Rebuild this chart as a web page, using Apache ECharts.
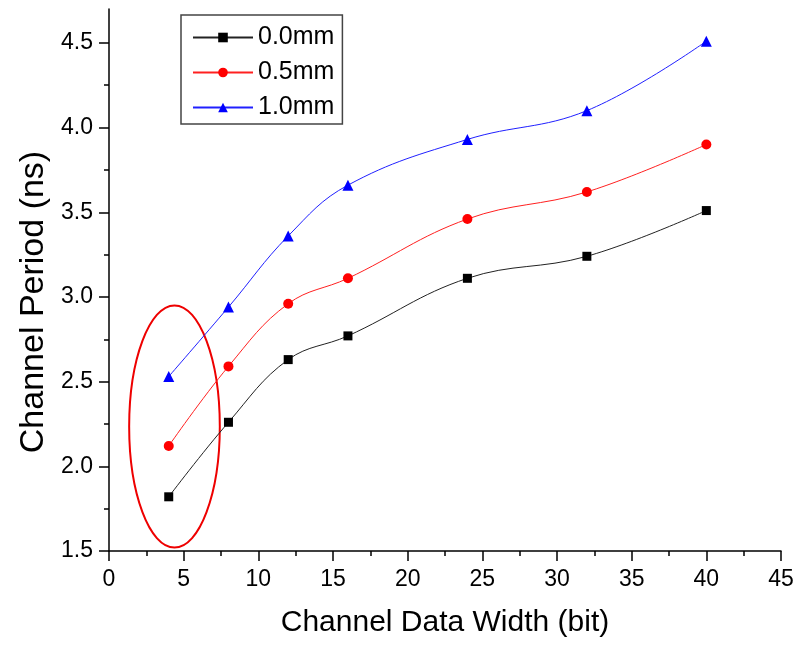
<!DOCTYPE html>
<html>
<head>
<meta charset="utf-8">
<script src="https://cdn.jsdelivr.net/npm/echarts@6/dist/echarts.min.js"></script>
<style>
  html, body { margin: 0; padding: 0; background: #fff; }
  #chart { width: 808px; height: 645px; }
</style>
</head>
<body>
<div id="chart"></div>
<script>
  // data
  var widths = [4, 8, 12, 16, 24, 32, 40];
  var period00 = [1.82, 2.26, 2.63, 2.77, 3.11, 3.24, 3.51];
  var period05 = [2.12, 2.59, 2.96, 3.11, 3.46, 3.62, 3.90];
  var period10 = [2.53, 2.94, 3.36, 3.66, 3.93, 4.10, 4.51];
  var seriesNames = ['0.0mm', '0.5mm', '1.0mm'];
  var yLabels = [1.5, 2.0, 2.5, 3.0, 3.5, 4.0, 4.5];
  var yMinor = [1.75, 2.25, 2.75, 3.25, 3.75, 4.25];
  // circled region: x from, y from, x to, y to
  var circled = [[1.35, 1.52, 7.42, 2.95]];

  var font = 'Liberation Sans, Arial, sans-serif';

  function pairs(vals) {
    var out = [];
    for (var i = 0; i < widths.length; i++) {
      out.push([widths[i], vals[i]]);
    }
    return out;
  }

  var chart = echarts.init(document.getElementById('chart'));

  var option = {
    animation: false,
    backgroundColor: '#fff',
    grid: { left: 109, right: 27, top: 9, bottom: 94 },
    legend: {
      data: seriesNames,
      orient: 'vertical',
      left: 181,
      top: 15,
      padding: [10, 8, 4, 11],
      itemGap: 10,
      itemWidth: 60,
      itemHeight: 12,
      borderColor: '#444',
      borderWidth: 1.5,
      textStyle: { fontFamily: font, fontSize: 25, color: '#000', lineHeight: 25 }
    },
    xAxis: {
      type: 'value',
      min: 0,
      max: 45,
      interval: 5,
      name: 'Channel Data Width (bit)',
      nameLocation: 'middle',
      nameGap: 57,
      nameTextStyle: { fontFamily: font, fontSize: 30, color: '#000' },
      axisLine: { onZero: false, lineStyle: { color: '#000', width: 1.5 } },
      axisTick: { length: 10, lineStyle: { color: '#000', width: 1.5 } },
      minorTick: { show: true, splitNumber: 2, length: 5, lineStyle: { color: '#000', width: 1.5 } },
      axisLabel: { fontFamily: font, fontSize: 23, color: '#000', margin: 17 },
      splitLine: { show: false }
    },
    yAxis: [
      {
        type: 'value',
        min: 1.5,
        max: 4.7,
        interval: 0.5,
        name: 'Channel Period (ns)',
        nameLocation: 'middle',
        nameGap: 58,
        nameTextStyle: { fontFamily: font, fontSize: 34, color: '#000', padding: [0, 44, 0, 0] },
        axisLine: { show: true, lineStyle: { color: '#000', width: 1.5 } },
        axisTick: { customValues: yLabels, length: 10, lineStyle: { color: '#000', width: 1.5 } },
        axisLabel: {
          customValues: yLabels,
          fontFamily: font, fontSize: 23, color: '#000', margin: 16,
          formatter: function (v) { return v.toFixed(1); }
        },
        splitLine: { show: false }
      },
      {
        type: 'value',
        min: 1.5,
        max: 4.7,
        position: 'left',
        axisLine: { show: false },
        axisTick: { customValues: yMinor, length: 5, lineStyle: { color: '#000', width: 1.5 } },
        axisLabel: { show: false },
        splitLine: { show: false }
      }
    ],
    series: [
      {
        name: seriesNames[0],
        type: 'line',
        data: pairs(period00),
        smooth: 0.4,
        symbol: 'rect',
        symbolSize: 9,
        clip: false,
        itemStyle: { color: '#000' },
        lineStyle: { color: '#222', width: 1 }
      },
      {
        name: seriesNames[1],
        type: 'line',
        data: pairs(period05),
        smooth: 0.4,
        symbol: 'circle',
        symbolSize: 10,
        clip: false,
        itemStyle: { color: '#ff0000' },
        lineStyle: { color: '#ff2020', width: 1 }
      },
      {
        name: seriesNames[2],
        type: 'line',
        data: pairs(period10),
        smooth: 0.4,
        symbol: 'triangle',
        symbolSize: 11,
        clip: false,
        itemStyle: { color: '#0000ff' },
        lineStyle: { color: '#2020ff', width: 1 }
      },
      {
        type: 'custom',
        data: circled,
        encode: { x: [0, 2], y: [1, 3] },
        silent: true,
        renderItem: function (params, api) {
          var p0 = api.coord([api.value(0), api.value(1)]);
          var p1 = api.coord([api.value(2), api.value(3)]);
          return {
            type: 'ellipse',
            shape: {
              cx: (p0[0] + p1[0]) / 2,
              cy: (p0[1] + p1[1]) / 2,
              rx: Math.abs(p1[0] - p0[0]) / 2,
              ry: Math.abs(p1[1] - p0[1]) / 2
            },
            style: { fill: 'none', stroke: '#ee0000', lineWidth: 2 }
          };
        }
      }
    ]
  };

  chart.setOption(option);
</script>
</body>
</html>
